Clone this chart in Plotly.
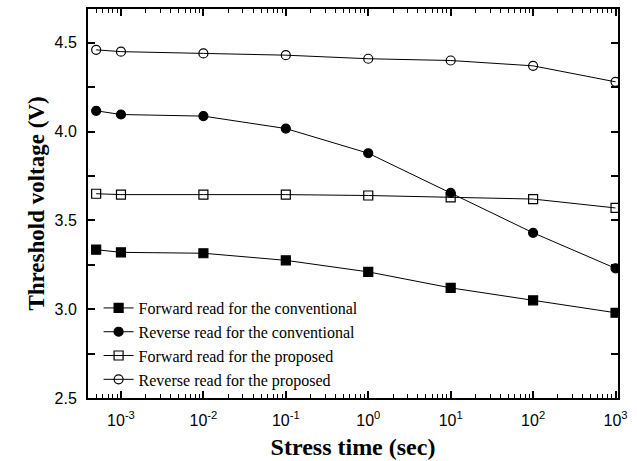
import plotly.graph_objects as go

stress_time = [5e-4, 1e-3, 1e-2, 1e-1, 1, 10, 100, 1000]
fwd_conv = [3.335, 3.32, 3.315, 3.275, 3.21, 3.12, 3.05, 2.98]
rev_conv = [4.117, 4.096, 4.087, 4.017, 3.878, 3.655, 3.43, 3.23]
fwd_prop = [3.65, 3.645, 3.645, 3.645, 3.64, 3.63, 3.62, 3.57]
rev_prop = [4.46, 4.45, 4.44, 4.43, 4.41, 4.40, 4.37, 4.28]

names = ["Forward read for the conventional", "Reverse read for the conventional",
         "Forward read for the proposed", "Reverse read for the proposed"]
symbols = ["square", "circle", "square-open", "circle-open"]
series = [fwd_conv, rev_conv, fwd_prop, rev_prop]

xtick_vals = [1e-3, 1e-2, 1e-1, 1, 10, 100, 1000]
xtick_text = ["10<sup>-3</sup>", "10<sup>-2</sup>", "10<sup>-1</sup>", "10<sup>0</sup>",
              "10<sup>1</sup>", "10<sup>2</sup>", "10<sup>3</sup>"]
ytick_vals = [2.5, 2.75, 3.0, 3.25, 3.5, 3.75, 4.0, 4.25, 4.5]
ytick_text = ["2.5", "", "3.0", "", "3.5", "", "4.0", "", "4.5"]

fig = go.Figure()
for n, s, y in zip(names, symbols, series):
    fig.add_trace(go.Scatter(
        x=stress_time, y=y, name=n, mode="lines+markers",
        line=dict(color="black", width=1),
        marker=dict(symbol=s, size=9, color="black", line=dict(color="black", width=1.2)),
    ))

fig.update_layout(
    width=637, height=461,
    margin=dict(l=88, r=19, t=9, b=63),
    paper_bgcolor="white", plot_bgcolor="white",
    showlegend=True,
    legend=dict(x=0.02, y=0.275, xanchor="left", yanchor="top",
                bgcolor="rgba(0,0,0,0)",
                font=dict(family="Liberation Serif", size=16, color="black"),
                tracegroupgap=0, itemwidth=30),
    font=dict(family="Liberation Sans", color="black"),
)
fig.update_xaxes(
    type="log", range=[-3.4, 3.03], automargin=False,
    tickvals=xtick_vals, ticktext=xtick_text,
    ticks="inside", ticklen=7, tickwidth=1.5, tickcolor="black",
    minor=dict(dtick="D1", ticks="inside", ticklen=4, tickwidth=1, tickcolor="black", showgrid=False),
    showline=True, linecolor="black", linewidth=2, mirror="ticks",
    showgrid=False, zeroline=False,
    ticklabelstandoff=7,
    tickfont=dict(family="Liberation Sans", size=16),
    title=dict(text="<b>Stress time (sec)</b>", font=dict(family="Liberation Serif", size=24), standoff=10),
)
fig.update_yaxes(
    range=[2.5, 4.69], automargin=False,
    tickvals=ytick_vals, ticktext=ytick_text,
    ticks="inside", ticklen=7, tickwidth=1.5, tickcolor="black",
    showline=True, linecolor="black", linewidth=2, mirror="ticks",
    showgrid=False, zeroline=False,
    ticklabelstandoff=6,
    tickfont=dict(family="Liberation Sans", size=16),
    title=dict(text="<b>Threshold voltage (V)</b>", font=dict(family="Liberation Serif", size=23), standoff=3),
)
fig.write_html("out.html")
